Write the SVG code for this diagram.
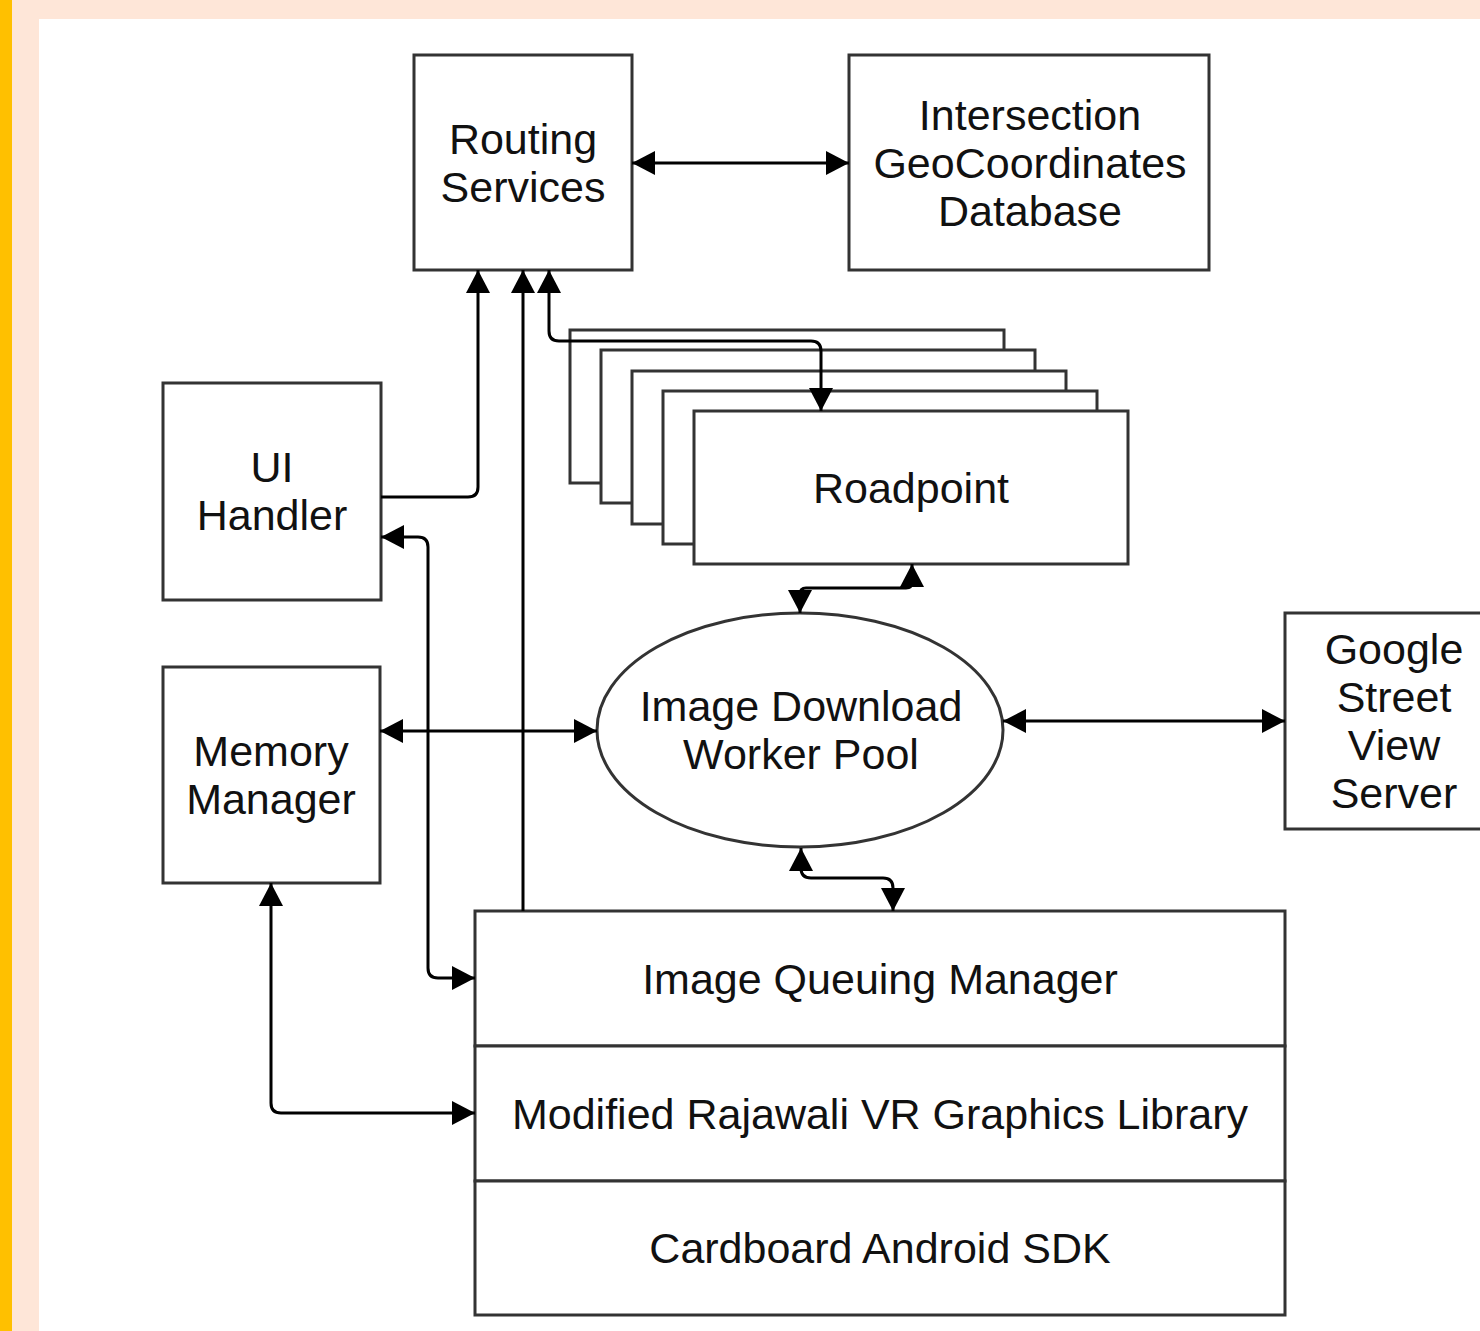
<svg xmlns="http://www.w3.org/2000/svg" width="1480" height="1331" viewBox="0 0 1480 1331">
  <style>
    .box { fill: #ffffff; stroke: #333333; stroke-width: 3; }
    .lbl { font-family: "Liberation Sans", Arial, sans-serif; font-size: 43px; fill: #111111; text-anchor: middle; }
    .conn { fill: none; stroke: #000000; stroke-width: 3; }
  </style>
  <defs>
    <marker id="arrow" markerUnits="userSpaceOnUse" markerWidth="24" markerHeight="26" viewBox="0 0 24 26" refX="23" refY="13" orient="auto-start-reverse">
      <path d="M0,1 L23,13 L0,25 Z" fill="#000000"/>
    </marker>
  </defs>

  <!-- page frame -->
  <rect x="0" y="0" width="1480" height="1331" fill="#fee6d8"/>
  <rect x="0" y="0" width="12" height="1331" fill="#ffc000"/>
  <rect x="39" y="19" width="1441" height="1312" fill="#ffffff"/>

  <g id="routing-services">
    <rect class="box" x="414" y="55" width="218" height="215"/>
    <text class="lbl" x="523" y="154">Routing</text>
    <text class="lbl" x="523" y="202">Services</text>
  </g>

  <g id="intersection-db">
    <rect class="box" x="849" y="55" width="360" height="215"/>
    <text class="lbl" x="1030" y="130">Intersection</text>
    <text class="lbl" x="1030" y="178">GeoCoordinates</text>
    <text class="lbl" x="1030" y="226">Database</text>
  </g>

  <g id="ui-handler">
    <rect class="box" x="163" y="383" width="218" height="217"/>
    <text class="lbl" x="272" y="482">UI</text>
    <text class="lbl" x="272" y="530">Handler</text>
  </g>

  <g id="memory-manager">
    <rect class="box" x="163" y="667" width="217" height="216"/>
    <text class="lbl" x="271" y="766">Memory</text>
    <text class="lbl" x="271" y="814">Manager</text>
  </g>

  <g id="roadpoint">
    <rect class="box" x="570" y="330" width="434" height="153"/>
    <rect class="box" x="601" y="350" width="434" height="153"/>
    <rect class="box" x="632" y="371" width="434" height="153"/>
    <rect class="box" x="663" y="391" width="434" height="153"/>
    <rect class="box" x="694" y="411" width="434" height="153"/>
    <text class="lbl" x="911" y="503">Roadpoint</text>
  </g>

  <g id="worker-pool">
    <ellipse class="box" cx="800" cy="730" rx="203" ry="117"/>
    <text class="lbl" x="801" y="721">Image Download</text>
    <text class="lbl" x="801" y="769">Worker Pool</text>
  </g>

  <g id="street-view-server">
    <rect class="box" x="1285" y="613" width="218" height="216"/>
    <text class="lbl" x="1394" y="664">Google</text>
    <text class="lbl" x="1394" y="712">Street</text>
    <text class="lbl" x="1394" y="760">View</text>
    <text class="lbl" x="1394" y="808">Server</text>
  </g>

  <g id="image-queuing-manager">
    <rect class="box" x="475" y="911" width="810" height="135"/>
    <text class="lbl" x="880" y="994">Image Queuing Manager</text>
  </g>

  <g id="rajawali-library">
    <rect class="box" x="475" y="1046" width="810" height="135"/>
    <text class="lbl" x="880" y="1129">Modified Rajawali VR Graphics Library</text>
  </g>

  <g id="cardboard-sdk">
    <rect class="box" x="475" y="1181" width="810" height="134"/>
    <text class="lbl" x="880" y="1263">Cardboard Android SDK</text>
  </g>

  <g id="connectors">
    <path class="conn" d="M632,163 H849" marker-start="url(#arrow)" marker-end="url(#arrow)"/>
    <path class="conn" d="M381,497 H468 Q478,497 478,487 V270" marker-end="url(#arrow)"/>
    <path class="conn" d="M523,911 V270" marker-end="url(#arrow)"/>
    <path class="conn" d="M549,270 V331 Q549,341 559,341 H811 Q821,341 821,351 V411" marker-start="url(#arrow)" marker-end="url(#arrow)"/>
    <path class="conn" d="M381,537 H418 Q428,537 428,547 V968 Q428,978 438,978 H475" marker-start="url(#arrow)" marker-end="url(#arrow)"/>
    <path class="conn" d="M380,731 H597" marker-start="url(#arrow)" marker-end="url(#arrow)"/>
    <path class="conn" d="M271,883 V1103 Q271,1113 281,1113 H475" marker-start="url(#arrow)" marker-end="url(#arrow)"/>
    <path class="conn" d="M912,564 V582 Q912,588 906,588 H806 Q800,588 800,594 V613" marker-start="url(#arrow)" marker-end="url(#arrow)"/>
    <path class="conn" d="M801,848 V868 Q801,878 811,878 H883 Q893,878 893,888 V911" marker-start="url(#arrow)" marker-end="url(#arrow)"/>
    <path class="conn" d="M1003,721 H1285" marker-start="url(#arrow)" marker-end="url(#arrow)"/>
  </g>
</svg>
